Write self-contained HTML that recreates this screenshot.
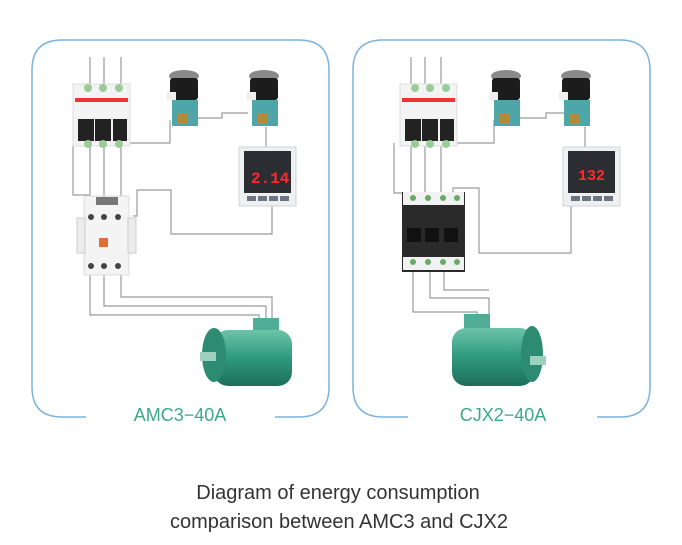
<!DOCTYPE html>
<html><head><meta charset="utf-8"><style>
html,body{margin:0;padding:0;background:#fff;width:682px;height:545px;overflow:hidden}
</style></head><body>
<svg width="682" height="545" viewBox="0 0 682 545" xmlns="http://www.w3.org/2000/svg" font-family="Liberation Sans, sans-serif">
<defs>
<linearGradient id="mot" x1="0" y1="0" x2="0" y2="1"><stop offset="0" stop-color="#6cc4a8"/><stop offset="0.5" stop-color="#2f9a7e"/><stop offset="1" stop-color="#1d6e59"/></linearGradient>
<g id="btn">
 <ellipse cx="18" cy="6" rx="15" ry="6" fill="#8a8a8a"/>
 <rect x="4" y="8" width="28" height="22" rx="3" fill="#1c1c1c"/>
 <rect x="1" y="22" width="9" height="8" fill="#eee"/>
 <rect x="6" y="30" width="26" height="26" fill="#4fa6a8"/>
 <rect x="12" y="44" width="10" height="10" fill="#b58a3a"/>
</g>
<g id="meter">
 <rect x="0" y="0" width="57" height="59" fill="#eef0f2" stroke="#cfd3d6"/>
 <rect x="5" y="4" width="47" height="42" fill="#2b2d33"/>
 <rect x="8" y="49" width="9" height="5" fill="#6b7480"/><rect x="19" y="49" width="9" height="5" fill="#6b7480"/><rect x="30" y="49" width="9" height="5" fill="#6b7480"/><rect x="41" y="49" width="9" height="5" fill="#6b7480"/>
</g>
<g id="breaker">
 <rect x="0" y="0" width="57" height="62" fill="#f3f3f3" stroke="#ddd"/>
 <rect x="2" y="14" width="53" height="4" fill="#e33"/>
 <rect x="5" y="35" width="16" height="22" fill="#222"/><rect x="22" y="35" width="16" height="22" fill="#222"/><rect x="40" y="35" width="14" height="22" fill="#222"/>
 <circle cx="15" cy="4" r="4" fill="#9c9"/><circle cx="30" cy="4" r="4" fill="#9c9"/><circle cx="46" cy="4" r="4" fill="#9c9"/>
 <circle cx="15" cy="60" r="4" fill="#9c9"/><circle cx="30" cy="60" r="4" fill="#9c9"/><circle cx="46" cy="60" r="4" fill="#9c9"/>
</g>
</defs>
<path d="M86 417 H62 Q32 417 32 387 V70 Q32 40 62 40 H299 Q329 40 329 70 V387 Q329 417 299 417 H275" fill="none" stroke="#7ab3e0" stroke-width="1.5"/>
<path d="M408 417 H383 Q353 417 353 387 V70 Q353 40 383 40 H620 Q650 40 650 70 V387 Q650 417 620 417 H597" fill="none" stroke="#7ab3e0" stroke-width="1.5"/>
<g fill="none" stroke="#9a9a9a" stroke-width="1.2">
<path d="M90 57V88M104 57V88M121 57V88"/>
<path d="M73 143V195H90M90 145V200M104 145V200M121 145V200"/>
<path d="M130 143H170V120M198 118H222V113H248M266 127V147"/>
<path d="M133 216H137V190H171V234H272V206"/>
<path d="M90 272V315H259V325M104 272V306H266V325M121 272V297H272V325"/>
<path d="M411 57V88M425 57V88M441 57V88"/>
<path d="M394 143V193H412M411 145V195M425 145V195M441 145V195"/>
<path d="M454 143H494V120M518 118H546V113H566M585 127V147"/>
<path d="M453 193V188H479V253H571V206"/>
<path d="M413 272V312H477V322M430 272V298H489V322M444 272V290H489"/>
</g>
<use href="#breaker" x="73" y="84"/>
<use href="#btn" x="166" y="70"/>
<use href="#btn" x="246" y="70"/>
<use href="#meter" x="239" y="147"/>
<text x="251" y="183" fill="#ff2a2a" font-size="16" font-family="Liberation Mono, monospace" font-weight="bold">2.14</text>
<rect x="84" y="196" width="45" height="79" fill="#f4f4f4" stroke="#ddd"/>
<rect x="77" y="218" width="8" height="35" fill="#ececec" stroke="#ccc"/><rect x="128" y="218" width="8" height="35" fill="#ececec" stroke="#ccc"/>
<rect x="96" y="197" width="22" height="8" fill="#777"/>
<circle cx="91" cy="217" r="3" fill="#444"/><circle cx="104" cy="217" r="3" fill="#444"/><circle cx="118" cy="217" r="3" fill="#444"/>
<circle cx="91" cy="266" r="3" fill="#444"/><circle cx="104" cy="266" r="3" fill="#444"/><circle cx="118" cy="266" r="3" fill="#444"/>
<rect x="99" y="238" width="9" height="9" fill="#e07030"/>
<rect x="253" y="318" width="26" height="16" fill="#4fae95"/>
<rect x="214" y="330" width="78" height="56" rx="14" fill="url(#mot)"/>
<ellipse cx="214" cy="355" rx="12" ry="27" fill="#2c8b70"/>
<rect x="200" y="352" width="16" height="9" fill="#9ed0bf"/>
<use href="#breaker" x="400" y="84"/>
<use href="#btn" x="488" y="70"/>
<use href="#btn" x="558" y="70"/>
<use href="#meter" x="563" y="147"/>
<text x="578" y="180" fill="#ff2a2a" font-size="15" font-family="Liberation Mono, monospace" font-weight="bold">132</text>
<rect x="402" y="192" width="63" height="80" fill="#2a2a2a"/>
<rect x="403" y="192" width="61" height="13" fill="#f1f1f1"/><rect x="403" y="257" width="61" height="13" fill="#f1f1f1"/>
<circle cx="413" cy="198" r="3" fill="#6a6"/><circle cx="428" cy="198" r="3" fill="#6a6"/><circle cx="443" cy="198" r="3" fill="#6a6"/><circle cx="457" cy="198" r="3" fill="#6a6"/>
<circle cx="413" cy="262" r="3" fill="#6a6"/><circle cx="428" cy="262" r="3" fill="#6a6"/><circle cx="443" cy="262" r="3" fill="#6a6"/><circle cx="457" cy="262" r="3" fill="#6a6"/>
<rect x="407" y="228" width="14" height="14" fill="#111"/><rect x="425" y="228" width="14" height="14" fill="#111"/><rect x="444" y="228" width="14" height="14" fill="#111"/>
<rect x="464" y="314" width="26" height="18" fill="#4fae95"/>
<rect x="452" y="328" width="82" height="58" rx="14" fill="url(#mot)"/>
<ellipse cx="532" cy="354" rx="11" ry="28" fill="#2c8b70"/>
<rect x="530" y="356" width="16" height="9" fill="#9ed0bf"/>
<text x="180" y="421" text-anchor="middle" fill="#3aa98a" font-size="18">AMC3−40A</text>
<text x="503" y="421" text-anchor="middle" fill="#3aa98a" font-size="18">CJX2−40A</text>
<text x="338" y="499" text-anchor="middle" fill="#333" font-size="20">Diagram of energy consumption</text>
<text x="339" y="528" text-anchor="middle" fill="#333" font-size="20">comparison between AMC3 and CJX2</text>
</svg>
</body></html>
